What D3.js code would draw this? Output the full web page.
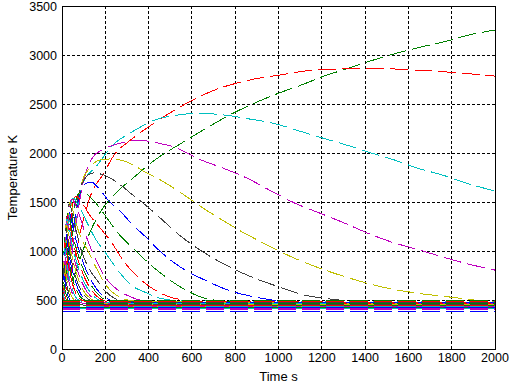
<!DOCTYPE html>
<html>
<head>
<meta charset="utf-8">
<script src="https://cdn.jsdelivr.net/npm/d3@7"></script>
<style>
  body { margin: 0; background: #fff; }
  text { font-family: "Liberation Sans", Arial, sans-serif; }
</style>
</head>
<body>
<svg id="chart"></svg>
<script>
// axis ticks
const xTicks = [0, 200, 400, 600, 800, 1000, 1200, 1400, 1600, 1800, 2000];
const yTicks = [0, 500, 1000, 1500, 2000, 2500, 3000, 3500];

// temperature traces, [time s, temperature K]
const s00 = [[0, 378], [2000, 378]];
const s01 = [[0, 470], [40, 640], [80, 900], [129, 1190], [175, 1390], [258, 1610], [336, 1760], [442, 1949], [553, 2102], [668, 2255], [774, 2388], [880, 2500], [1000, 2610], [1106, 2694], [1212, 2786], [1327, 2867], [1433, 2945], [1548, 3020], [1659, 3082], [1774, 3140], [1880, 3204], [2000, 3255]];
const s02 = [[0, 470], [50, 850], [100, 1330], [138, 1600], [189, 1780], [244, 1990], [304, 2110], [392, 2255], [498, 2408], [604, 2541], [714, 2650], [820, 2720], [912, 2765], [1005, 2795], [1100, 2830], [1300, 2860], [1420, 2866], [1600, 2850], [1790, 2825], [2000, 2785]];
const s03 = [[0, 470], [40, 900], [97, 1694], [161, 1870], [235, 2082], [323, 2214], [429, 2337], [544, 2390], [636, 2405], [760, 2385], [866, 2347], [982, 2300], [1097, 2224], [1203, 2153], [1313, 2082], [1429, 2000], [1535, 1929], [1640, 1847], [1756, 1776], [1866, 1694], [2000, 1612]];
const s04 = [[0, 470], [40, 920], [100, 1720], [143, 1959], [184, 2030], [230, 2075], [290, 2112], [340, 2128], [396, 2122], [442, 2102], [530, 2051], [576, 2000], [636, 1935], [742, 1847], [853, 1745], [968, 1610], [1074, 1490], [1189, 1388], [1304, 1286], [1410, 1184], [1521, 1092], [1627, 1025], [1742, 950], [1857, 878], [2000, 805]];
const s05 = [[0, 470], [40, 1000], [90, 1690], [129, 1850], [175, 1929], [235, 1940], [299, 1908], [392, 1796], [465, 1712], [544, 1602], [650, 1440], [760, 1290], [820, 1210], [945, 1065], [1065, 935], [1175, 837], [1327, 724], [1479, 633], [1636, 571], [1788, 531], [1940, 492], [2000, 482]];
const s06 = [[0, 470], [40, 1050], [90, 1680], [143, 1796], [200, 1770], [258, 1694], [327, 1571], [380, 1480], [442, 1360], [553, 1143], [659, 980], [774, 837], [876, 735], [1018, 622], [1111, 555], [1203, 520], [1300, 495], [1400, 480], [1600, 472], [2000, 470]];
const s07 = [[0, 470], [40, 1050], [80, 1560], [110, 1690], [140, 1700], [161, 1660], [221, 1500], [267, 1410], [327, 1265], [392, 1133], [442, 1020], [553, 827], [659, 704], [765, 602], [870, 540], [972, 500], [1097, 478], [1300, 468], [2000, 465]];
const s08 = [[0, 470], [30, 950], [60, 1480], [85, 1600], [110, 1585], [152, 1500], [200, 1360], [258, 1184], [327, 1030], [419, 840], [535, 650], [636, 535], [720, 495], [900, 475], [2000, 472]];
const s09 = [[0, 470], [25, 950], [50, 1480], [65, 1560], [90, 1500], [130, 1360], [184, 1214], [221, 1112], [290, 880], [365, 705], [442, 585], [498, 531], [560, 500], [650, 482], [2000, 478]];
const s10 = [[0, 470], [20, 950], [40, 1460], [52, 1540], [80, 1450], [120, 1270], [152, 1133], [198, 990], [281, 740], [313, 665], [392, 571], [450, 520], [550, 492], [2000, 485]];
const s11 = [[0, 470], [18, 950], [35, 1450], [45, 1530], [75, 1400], [110, 1160], [150, 940], [207, 710], [253, 610], [299, 550], [336, 515], [420, 482], [2000, 460]];
const s12 = [[0, 470], [15, 900], [30, 1420], [38, 1500], [60, 1320], [90, 1120], [120, 1000], [160, 820], [207, 640], [244, 560], [267, 531], [330, 490], [2000, 455]];
const s13 = [[0, 470], [12, 900], [26, 1400], [33, 1480], [60, 1250], [90, 1000], [129, 806], [161, 704], [200, 590], [250, 510], [320, 480], [2000, 452]];
const s14 = [[0, 470], [14, 1000], [28, 1420], [60, 1150], [100, 870], [140, 680], [180, 560], [230, 495], [300, 475], [2000, 470]];
const s15 = [[0, 470], [13, 980], [26, 1390], [55, 1110], [92, 850], [130, 670], [170, 550], [215, 490], [280, 472], [2000, 466]];
const s16 = [[0, 470], [12, 960], [24, 1360], [52, 1080], [86, 830], [122, 650], [160, 540], [205, 485], [270, 470], [2000, 462]];
const s17 = [[0, 470], [11, 940], [22, 1330], [48, 1050], [80, 800], [115, 630], [150, 530], [195, 480], [260, 462], [2000, 458]];
const s18 = [[0, 470], [10, 900], [20, 1300], [45, 1020], [75, 780], [108, 610], [142, 520], [185, 478], [250, 458], [2000, 455]];
const s19 = [[0, 470], [9, 880], [18, 1270], [42, 990], [70, 750], [100, 590], [135, 510], [175, 475], [240, 455], [2000, 452]];
const s20 = [[0, 470], [8, 850], [16, 1230], [38, 960], [65, 720], [95, 570], [128, 500], [165, 470], [230, 450], [2000, 448]];
const s21 = [[0, 470], [7, 820], [15, 1190], [35, 930], [60, 700], [88, 555], [120, 495], [155, 468], [220, 447], [2000, 445]];
const s22 = [[0, 470], [6, 790], [13, 1140], [32, 890], [55, 670], [82, 540], [112, 490], [145, 465], [210, 444], [2000, 442]];
const s23 = [[0, 465], [6, 760], [12, 1090], [30, 850], [52, 640], [76, 525], [105, 485], [140, 462], [200, 440], [2000, 438]];
const s24 = [[0, 465], [5, 730], [11, 1030], [27, 800], [48, 610], [70, 510], [98, 480], [130, 458], [190, 437], [2000, 435]];
const s25 = [[0, 465], [5, 700], [10, 970], [25, 760], [44, 590], [65, 500], [92, 470], [125, 455], [180, 434], [2000, 432]];
const s26 = [[0, 460], [4, 660], [9, 900], [22, 710], [40, 560], [60, 490], [85, 465], [160, 430], [2000, 428]];
const s27 = [[0, 460], [4, 620], [8, 830], [20, 670], [36, 540], [55, 480], [80, 460], [150, 427], [2000, 425]];
const s28 = [[0, 460], [3, 580], [7, 760], [18, 620], [32, 520], [50, 470], [120, 424], [2000, 422]];
const s29 = [[0, 455], [3, 550], [6, 690], [16, 580], [28, 500], [45, 460], [110, 420], [2000, 418]];
const s30 = [[0, 455], [2, 520], [5, 620], [14, 540], [25, 480], [40, 450], [100, 416], [2000, 414]];
const s31 = [[0, 450], [2, 500], [4, 560], [12, 510], [22, 465], [90, 412], [2000, 410]];
// traces that never ignite: the flat band
const s32 = [[0, 404], [2000, 404]];
const s33 = [[0, 478], [2000, 478]];
const s34 = [[0, 472], [2000, 472]];
const s35 = [[0, 420], [2000, 420]];
const s36 = [[0, 490], [2000, 490]];
const s37 = [[0, 484], [2000, 484]];
const s38 = [[0, 430], [2000, 430]];
const s39 = [[0, 410], [2000, 410]];
const s40 = [[0, 466], [2000, 466]];
const s41 = [[0, 455], [2000, 455]];
const s42 = [[0, 440], [2000, 440]];
const s43 = [[0, 460], [2000, 460]];
const s44 = [[0, 448], [2000, 448]];
const s45 = [[0, 436], [2000, 436]];

const series = [s00, s01, s02, s03, s04, s05, s06, s07, s08, s09, s10, s11, s12, s13, s14, s15,
  s16, s17, s18, s19, s20, s21, s22, s23, s24, s25, s26, s27, s28, s29, s30, s31,
  s32, s33, s34, s35, s36, s37, s38, s39, s40, s41, s42, s43, s44, s45];

// matlab default colour order
const colorOrder = ["#0000ff", "#008000", "#ff0000", "#00bfbf", "#bf00bf", "#bfbf00", "#404040"];

const W = 514, H = 390;
const margin = { top: 6, right: 19, bottom: 41, left: 62 };
const width = W - margin.left - margin.right;
const height = H - margin.top - margin.bottom;

const svg = d3.select("#chart").attr("width", W).attr("height", H);

const x = d3.scaleLinear().domain([0, 2000]).range([margin.left, margin.left + width]);
const y = d3.scaleLinear().domain([0, 3500]).range([margin.top + height, margin.top]);

svg.append("rect")
  .attr("x", margin.left).attr("y", margin.top)
  .attr("width", width).attr("height", height)
  .attr("fill", "#fff");

svg.append("clipPath").attr("id", "plot-clip")
  .append("rect")
  .attr("x", margin.left).attr("y", margin.top)
  .attr("width", width + 1).attr("height", height + 1);

// grid
const grid = svg.append("g")
  .attr("stroke", "#000")
  .attr("stroke-dasharray", "3,2")
  .attr("shape-rendering", "crispEdges");

grid.selectAll(".gx")
  .data(xTicks.slice(1, -1))
  .join("line")
  .attr("x1", d => x(d)).attr("x2", d => x(d))
  .attr("y1", margin.top).attr("y2", margin.top + height);

grid.selectAll(".gy")
  .data(yTicks.slice(1, -1))
  .join("line")
  .attr("y1", d => y(d)).attr("y2", d => y(d))
  .attr("x1", margin.left).attr("x2", margin.left + width);

// curves
const line = d3.line()
  .x(d => x(d[0]))
  .y(d => y(d[1]))
  .curve(d3.curveMonotoneX);

svg.append("g")
  .attr("clip-path", "url(#plot-clip)")
  .selectAll("path")
  .data(series)
  .join("path")
  .attr("d", line)
  .attr("fill", "none")
  .attr("stroke", (d, i) => colorOrder[i % colorOrder.length])
  .attr("stroke-width", 1)
  .attr("stroke-dasharray", "18,6")
  .attr("shape-rendering", "crispEdges");

// axes box
svg.append("rect")
  .attr("x", margin.left).attr("y", margin.top)
  .attr("width", width).attr("height", height)
  .attr("fill", "none")
  .attr("stroke", "#000")
  .attr("shape-rendering", "crispEdges");

// tick labels
svg.append("g").selectAll("text")
  .data(xTicks)
  .join("text")
  .attr("x", d => x(d))
  .attr("y", 362)
  .attr("text-anchor", "middle")
  .attr("font-size", "12.5px")
  .text(d => d);

svg.append("g").selectAll("text")
  .data(yTicks)
  .join("text")
  .attr("x", margin.left - 5)
  .attr("y", d => y(d) + 4.5)
  .attr("text-anchor", "end")
  .attr("font-size", "12.5px")
  .text(d => d);

// axis titles
svg.append("text")
  .attr("x", margin.left + width / 2)
  .attr("y", 381)
  .attr("text-anchor", "middle")
  .attr("font-size", "13px")
  .text("Time s");

svg.append("text")
  .attr("transform", `translate(17, ${margin.top + height / 2}) rotate(-90)`)
  .attr("text-anchor", "middle")
  .attr("font-size", "13px")
  .text("Temperature K");
</script>
</body>
</html>
